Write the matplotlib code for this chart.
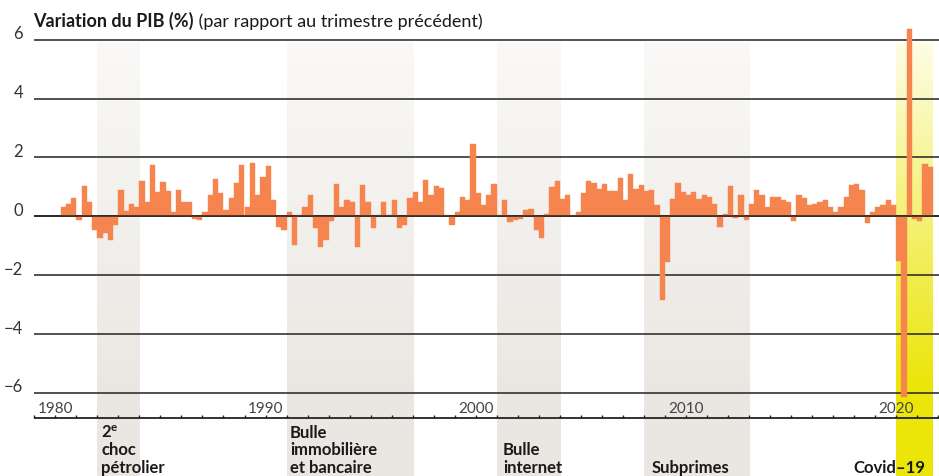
import numpy as np
import matplotlib.pyplot as plt
from matplotlib.colors import to_rgb

plt.rcParams['font.family'] = ['Lato', 'DejaVu Sans']
plt.rcParams['mathtext.fontset'] = 'custom'
plt.rcParams['mathtext.rm'] = 'Lato'
plt.rcParams['mathtext.bf'] = 'Lato:bold'

# Quarterly GDP change (%), first bar = 1980 Q2
first_quarter = 1980.25
gdp_change = [
    0.33, 0.43, 0.61, -0.14, 1.02, 0.50, -0.45, -0.75, -0.57, -0.79,
    -0.31, 0.88, 0.17, 0.43, 0.33, 1.19, 0.47, 1.74, 0.81, 1.15,
    0.85, 0.13, 0.91, 0.50, 0.47, -0.10, -0.14, 0.16, 0.74, 1.26,
    0.78, 0.23, 0.61, 1.12, 1.74, 0.30, 1.81, 0.71, 1.33, 1.70,
    0.57, -0.38, -0.45, 0.13, -0.99, 0.03, 0.33, 0.74, -0.41, -1.03,
    -0.79, -0.17, 1.09, 0.33, 0.57, 0.47, -1.06, 1.05, 0.47, -0.41,
    0.06, 0.50, 0.06, 0.54, -0.41, -0.31, 0.61, 0.81, 0.47, 1.22,
    0.71, 1.02, 0.95, 0.06, -0.31, 0.16, 0.64, 0.54, 2.46, 0.78,
    0.40, 0.74, 1.09, 0.03, 0.55, -0.19, -0.13, -0.09, 0.20, 0.24,
    -0.47, -0.74, 0.07, 0.99, 1.19, 0.58, 0.72, 0.03, 0.14, 0.78,
    1.19, 1.13, 0.92, 1.09, 0.85, 0.85, 1.30, 0.55, 1.43, 0.92,
    1.06, 0.85, 0.89, 0.38, -2.85, -1.57, 0.58, 1.13, 0.82, 0.72,
    0.82, 0.58, 0.74, 0.64, 0.43, -0.38, 0.09, 1.02, -0.07, 0.71,
    -0.14, 0.43, 0.88, 0.74, 0.30, 0.64, 0.67, 0.54, 0.50, -0.17,
    0.71, 0.61, 0.37, 0.43, 0.50, 0.54, 0.30, 0.16, 0.30, 0.64,
    1.05, 1.09, 0.91, -0.24, 0.16, 0.30, 0.37, 0.54, 0.40, -1.53,
    -6.15, 6.35, -0.08, -0.16, 1.77, 1.66,
]

# Crisis periods
crisis_names = ["$\\mathbf{2^{e}}$\nchoc\npétrolier", "Bulle\nimmobilière\net bancaire",
                "Bulle\ninternet", "Subprimes", "Covid\u201319"]
crisis_start = [1982, 1991, 2001, 2008, 2020]
crisis_end = [1984, 1997, 2004, 2013, 2021.75]

y_ticks = [-6, -4, -2, 0, 2, 4, 6]
year_labels = [1980, 1990, 2000, 2010, 2020]
first_year, last_year = 1979, 2022

# pixel -> data helpers (figure is 939 x 477 px)
PX_YEAR = 21.02
PX_UNIT = 29.42
Y0_PX = 217.3
X0_PX = 34.3


def dx(px):
    return first_year + (px - X0_PX) / PX_YEAR


def dy(px):
    return (Y0_PX - px) / PX_UNIT


fig = plt.figure(figsize=(9.39, 4.77), dpi=100)
ax = fig.add_axes([0, 0, 1, 1])
ax.axis('off')

# gradient backgrounds for crisis periods
top, bottom = dy(43), dy(477)
n = 300
ys = np.linspace(top, bottom, n)
gray_top, gray_bot = np.array(to_rgb('#faf9f7')), np.array(to_rgb('#eae7e2'))
yel_top, yel_bot = np.array(to_rgb('#fefde6')), np.array(to_rgb('#ece50a'))
for name, s, e in zip(crisis_names, crisis_start, crisis_end):
    if name.startswith("Covid"):
        f = np.clip((top - ys) / (top - dy(385)), 0, 1)
        c0, c1 = yel_top, yel_bot
    else:
        f = np.clip((top - ys) / (top - dy(400)), 0, 1)
        c0, c1 = gray_top, gray_bot
    grad = c0[None, :] + f[:, None] * (c1 - c0)[None, :]
    ax.imshow(grad[:, None, :], extent=[s, e, bottom, top], aspect='auto',
              interpolation='bilinear', zorder=0)

# grid lines
ax.hlines(y_ticks, first_year, dx(939), color='#222222', lw=1.1, zorder=2)
for v in y_ticks:
    lab = str(v).replace('-', '\u2212')
    ax.text(dx(23), v + 0.05, lab, ha='right', va='baseline', fontsize=12,
            color='#333333')

# bars
quarters = first_quarter + 0.25 * np.arange(len(gdp_change))
ax.bar(quarters, gdp_change, width=0.25, align='edge', color='#f5844e',
       edgecolor='#f5844e', linewidth=0.3, zorder=3)
ax.hlines(0, first_year, dx(939), color='#222222', lw=1.1, zorder=4)

# x axis
axis_y = dy(419)
ax.hlines(axis_y, first_year, dx(939), color='#222222', lw=1.3, zorder=4)
ax.vlines(np.arange(first_year, last_year + 1), axis_y, axis_y + 3 / PX_UNIT,
          color='#222222', lw=1.0, zorder=4)
for yr in year_labels:
    ax.text(yr, dy(413), str(yr), ha='center', va='baseline', fontsize=11,
            color='#444444')

# crisis labels (one text block each)
label_x = [dx(101), dx(290), dx(503), dx(652), dx(925)]
for name, lx in zip(crisis_names, label_x):
    ha = 'right' if name.startswith("Covid") else 'left'
    ax.text(lx, dy(476), name, ha=ha, va='bottom', multialignment='left',
            linespacing=1.12, fontsize=12, fontweight='bold',
            color='#1a1a1a', zorder=5)

# title
t1 = ax.text(dx(33), dy(27), "Variation du PIB (%)", fontsize=13,
             fontweight='bold', color='#1a1a1a', va='baseline')
ax.annotate(" (par rapport au trimestre précédent)", xy=(1, 0), xycoords=t1,
            ha='left', va='bottom', fontsize=13, color='#1a1a1a')

ax.set_xlim(dx(0), dx(939))
ax.set_ylim(dy(477), dy(0))

fig.savefig('out.png', dpi=100)
